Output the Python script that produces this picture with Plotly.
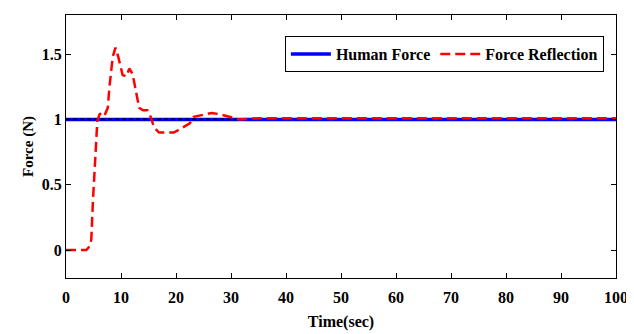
import plotly.graph_objects as go

time_human = [0, 100]
force_human = [1, 1]

time_ref = [0, 31]
force_ref = [1, 1]

time_refl = [0, 2, 3.7, 4.3, 4.6, 4.9, 5.2, 5.4, 5.7, 6.1, 6.5, 7.0, 7.6, 7.9, 8.5, 9.0, 9.5,
             10.3, 11.0, 11.5, 12.1, 12.7, 13.3, 14.0, 14.8, 15.4, 16.0, 16.9, 18.0, 19.6,
             20.5, 21.7, 22.5, 23.2, 24.5, 26.5, 28.0, 30.0, 31.5, 35, 40, 50, 60, 70, 80, 90, 100]
force_refl = [0, 0, 0, 0.03, 0.08, 0.38, 0.6, 0.76, 0.99, 1.04, 1.05, 1.03, 1.09, 1.25, 1.48, 1.55, 1.48,
              1.34, 1.33, 1.39, 1.35, 1.22, 1.09, 1.07, 1.07, 1.02, 0.94, 0.90, 0.90, 0.90,
              0.92, 0.95, 0.97, 1.02, 1.03, 1.05, 1.04, 1.02, 1.0, 1.01, 1.01, 1.01, 1.01, 1.01, 1.01, 1.01, 1.01]

x_ticks = [0, 10, 20, 30, 40, 50, 60, 70, 80, 90, 100]
y_ticks = [0, 0.5, 1, 1.5]
y_tick_labels = ["0", "0.5", "1", "1.5"]

font_family = "Liberation Serif"

fig = go.Figure()
fig.add_trace(go.Scatter(x=time_human, y=force_human, mode="lines", name="Human Force",
                         line=dict(color="#0000ff", width=3.5)))
fig.add_trace(go.Scatter(x=time_ref, y=force_ref, mode="lines", showlegend=False,
                         line=dict(color="black", width=1.8, dash="4px,3px")))
fig.add_trace(go.Scatter(x=time_refl, y=force_refl, mode="lines", name="Force Reflection",
                         line=dict(color="#ff0000", width=2.5, dash="10px,5px")))

axis_common = dict(showline=True, linecolor="black", linewidth=1, mirror="ticks",
                   ticks="inside", ticklen=5, tickcolor="black", showgrid=False, zeroline=False,
                   tickfont=dict(family=font_family, size=16, color="black", weight="bold"))

fig.update_layout(
    width=626, height=326,
    margin=dict(l=58, r=13, t=6, b=56),
    paper_bgcolor="white", plot_bgcolor="white",
    font=dict(family=font_family, color="black"),
    xaxis=dict(range=[0, 100], tickvals=x_ticks, ticklabelstandoff=5,
               title=dict(text="<b>Time(sec)</b>", font=dict(family=font_family, size=16), standoff=10),
               **axis_common),
    yaxis=dict(range=[-0.214, 1.80], tickvals=y_ticks, ticktext=y_tick_labels,
               title=dict(text="<b>Force (N)</b>", font=dict(family=font_family, size=15), standoff=4),
               **axis_common),
    legend=dict(orientation="h", x=0.978, y=0.92, xanchor="right", yanchor="top",
                bgcolor="white", bordercolor="black", borderwidth=1,
                font=dict(family=font_family, size=16, color="black", weight="bold"),
                itemwidth=40),
    showlegend=True,
)

fig.write_html("out.html")
